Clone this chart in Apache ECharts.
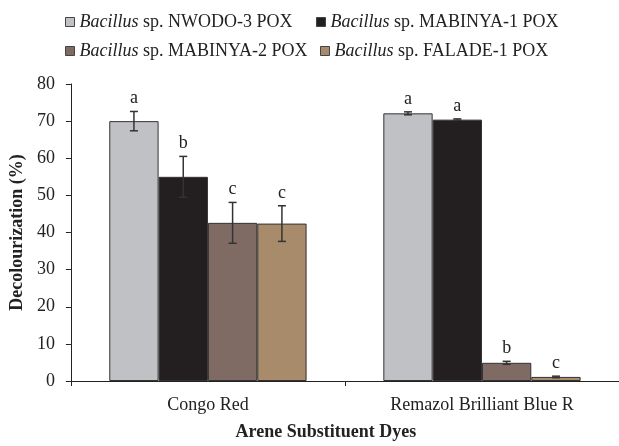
<!DOCTYPE html>
<html><head><meta charset="utf-8">
<script src="https://cdn.jsdelivr.net/npm/echarts@6/dist/echarts.min.js"></script>
<style>html,body{margin:0;padding:0;background:#fff}#c{width:619px;height:446px}</style>
</head><body><div id="c"></div>
<script>
const categories = ['Congo Red', 'Remazol Brilliant Blue R'];
const strains = ['NWODO-3', 'MABINYA-1', 'MABINYA-2', 'FALADE-1'];
const nwodo3 = [70.0, 72.1];
const mabinya1 = [55.0, 70.4];
const mabinya2 = [42.6, 4.9];
const falade1 = [42.4, 1.1];
const errNwodo3 = [2.6, 0.4];
const errMabinya1 = [5.5, 0.2];
const errMabinya2 = [5.5, 0.4];
const errFalade1 = [4.8, 0.2];
const letters = [['a','a'],['b','a'],['c','b'],['c','c']];
const yTicks = [0,10,20,30,40,50,60,70,80];

const values = [nwodo3, mabinya1, mabinya2, falade1];
const errs = [errNwodo3, errMabinya1, errMabinya2, errFalade1];
const colors = ['#c0c1c5', '#231f20', '#7f6a64', '#a88b6a'];
const FONT = '"Liberation Serif", "Times New Roman", serif';
const BAR_FRAC = 0.18;

const errData = [];
values.forEach((arr, s) => arr.forEach((v, c) => {
  errData.push([c, s, v, errs[s][c], letters[s][c]]);
}));

const chart = echarts.init(document.getElementById('c'));
const barSeries = strains.map((n, i) => ({
  name: n, type: 'bar', data: values[i], barWidth: (BAR_FRAC*100)+'%', barGap: '0%',
  itemStyle: { color: colors[i], borderColor: '#333', borderWidth: 1 },
  emphasis: { disabled: true }
}));
const legendPos = [[60, 8], [311, 8], [60, 37], [315, 37]];
const legends = strains.map((n, i) => ({
  data: [n], left: legendPos[i][0], top: legendPos[i][1],
  icon: 'rect', itemWidth: 9, itemHeight: 9, itemGap: 4,
  itemStyle: { borderColor: '#444', borderWidth: 1 },
  selectedMode: false,
  formatter: name => '{i|Bacillus}{n| sp. ' + name + ' POX}',
  textStyle: { fontFamily: FONT, fontSize: 18, color: '#222', padding: [0,0,0,0],
    rich: {
      i: { fontStyle: 'italic', fontFamily: FONT, fontSize: 18, color: '#222' },
      n: { fontFamily: FONT, fontSize: 18, color: '#222' }
    } }
}));

chart.setOption({
  animation: false,
  legend: legends,
  grid: { left: 66, top: 84, width: 556, height: 302, containLabel: false },
  xAxis: {
    type: 'category', data: categories,
    name: 'Arene Substituent Dyes', nameLocation: 'middle', nameGap: 42,
    nameTextStyle: { fontFamily: FONT, fontSize: 18, fontWeight: 'bold', color: '#222', padding: [0, 38, 0, 0] },
    axisLine: { lineStyle: { color: '#222', width: 1 } },
    axisTick: { show: true, length: 5, lineStyle: { color: '#222' } },
    axisLabel: { fontFamily: FONT, fontSize: 18, color: '#222', margin: 15 }
  },
  yAxis: {
    type: 'value', min: 0, max: 80, interval: 10,
    name: 'Decolourization (%)', nameLocation: 'middle', nameGap: 32,
    nameTextStyle: { fontFamily: FONT, fontSize: 18, fontWeight: 'bold', color: '#222' },
    axisLine: { show: true, lineStyle: { color: '#222', width: 1 } },
    axisTick: { show: true, length: 5, lineStyle: { color: '#222' } },
    splitLine: { show: false },
    axisLabel: { fontFamily: FONT, fontSize: 18, color: '#222', margin: 16,
      formatter: v => yTicks.includes(v) ? String(v) : '' }
  },
  series: barSeries.concat([{
    type: 'custom', data: errData, z: 10, silent: true,
    encode: { x: 0, y: 2 },
    renderItem: (params, api) => {
      const c = api.value(0), s = api.value(1), v = api.value(2), e = api.value(3);
      const letter = errData[params.dataIndex][4];
      const band = api.size([1, 0])[0];
      const bw = band * BAR_FRAC;
      const base = api.coord([c, v]);
      const x = base[0] + (s - 1.5) * bw;
      const yTop = api.coord([c, v + e])[1];
      const yBot = api.coord([c, v - e])[1];
      const cap = 4;
      const st = { stroke: '#333', lineWidth: 1.5 };
      return { type: 'group', children: [
        { type: 'line', shape: { x1: x, y1: yTop, x2: x, y2: yBot }, style: st },
        { type: 'line', shape: { x1: x - cap, y1: yTop, x2: x + cap, y2: yTop }, style: st },
        { type: 'line', shape: { x1: x - cap, y1: yBot, x2: x + cap, y2: yBot }, style: st },
        { type: 'text', style: { text: letter, x: x, y: yTop - 4, align: 'center', verticalAlign: 'bottom',
          font: '18px ' + FONT, fill: '#222' } }
      ]};
    }
  }])
});
</script></body></html>
